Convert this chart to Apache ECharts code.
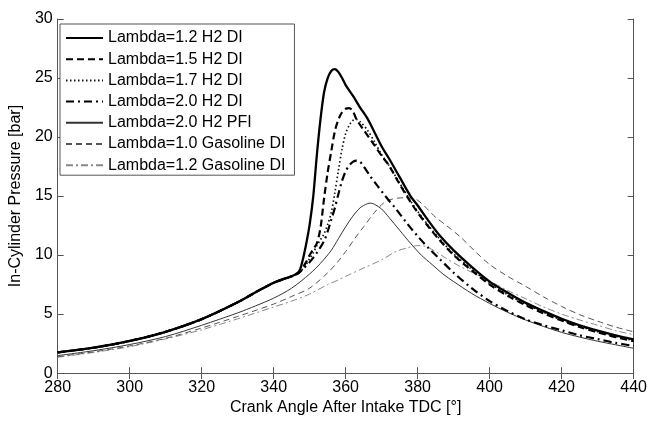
<!DOCTYPE html>
<html>
<head>
<meta charset="utf-8">
<script src="https://cdn.jsdelivr.net/npm/echarts@6/dist/echarts.min.js"></script>
<style>html,body{margin:0;padding:0;background:#fff;}#c{width:650px;height:421px;}</style>
</head>
<body>
<div id="c"></div>
<script>
const seriesNames = ["Lambda=1.2 H2 DI","Lambda=1.5 H2 DI","Lambda=1.7 H2 DI","Lambda=2.0 H2 DI","Lambda=2.0 H2 PFI","Lambda=1.0 Gasoline DI","Lambda=1.2 Gasoline DI"];

const xTicks = [280,300,320,340,360,380,400,420,440];
const yTicks = [0,5,10,15,20,25,30];

// shared compression phase of the H2 DI cases
const compAngle = [280,290,300,310,320,330,335,340,343,345];
const compP     = [1.75,2.15,2.72,3.5,4.57,6.0,6.85,7.65,8.0,8.2];

const angle_l12 = [347,348,349,350,351,352,353,354,355,356,357,358,359,360,362,364,366,368,370,372,375,378,380,383,386,390,395,400,405,410,415,420,425,430,435,440];
const p_l12     = [8.6,9.5,10.9,12.6,15.0,18.5,21.5,23.8,25.0,25.6,25.75,25.5,25.0,24.4,23.5,22.5,21.6,20.4,19.2,18.2,16.6,15.0,14.2,12.9,11.7,10.4,9.0,7.75,6.8,5.95,5.25,4.6,4.05,3.6,3.2,2.85];

const angle_l15 = [347,348,349,350,351,352,353,354,355,356,357,358,359,360,361,362,363,365,368,370,372,375,378,380,383,386,390,395,400,405,410,415,420,425,430,435,440];
const p_l15     = [8.5,8.9,9.4,10.0,10.5,11.0,12.3,14.8,17.0,18.8,20.5,21.5,22.1,22.4,22.45,22.2,21.5,20.6,19.3,18.4,17.6,16.0,14.5,13.6,12.4,11.3,10.0,8.7,7.5,6.55,5.75,5.05,4.45,3.9,3.45,3.05,2.7];

const angle_l17 = [347,348,349,350,351,352,353,354,355,356,357,358,359,360,361,362,363,364,366,368,370,372,375,378,380,383,386,390,395,400,405,410,415,420,425,430,435,440];
const p_l17     = [8.5,8.8,9.2,9.7,10.2,10.8,11.3,11.8,12.6,13.6,15.3,17.2,19.0,20.3,21.0,21.4,21.5,21.3,20.6,19.6,18.5,17.6,16.1,14.6,13.7,12.5,11.4,10.1,8.8,7.6,6.65,5.85,5.15,4.5,3.95,3.5,3.1,2.75];

const angle_l20 = [347,348,350,352,354,355,356,357,358,359,360,361,362,363,364,365,367,369,371,374,377,380,383,386,390,395,400,405,410,415,420,425,430,435,440];
const p_l20     = [8.5,8.8,9.4,10.2,11.2,12.0,13.0,14.0,15.2,16.3,17.1,17.6,17.9,18.0,17.9,17.5,16.6,15.8,15.0,13.9,12.7,11.6,10.6,9.7,8.5,7.2,6.1,5.25,4.55,4.05,3.62,3.2,2.88,2.56,2.3];

const angle_pfi = [280,290,300,310,320,330,335,340,345,350,353,356,358,360,362,364,366,367,368,370,372,375,378,381,384,387,390,395,400,405,410,415,420,425,430,435,440];
const p_pfi     = [1.48,1.9,2.42,3.1,4.05,5.1,5.7,6.35,7.2,8.4,9.3,10.4,11.4,12.4,13.3,14.0,14.35,14.4,14.3,13.9,13.2,12.1,11.0,10.0,9.2,8.4,7.75,6.75,5.9,5.15,4.5,3.95,3.45,3.05,2.7,2.4,2.1];

const angle_g10 = [280,290,300,310,320,330,340,345,350,355,358,360,363,365,368,370.5,373,376,379,381,383,385,388,392,396,400,405,410,415,420,425,430,435,440];
const p_g10     = [1.38,1.8,2.3,2.95,3.82,4.8,5.85,6.5,7.2,8.5,9.5,10.3,11.6,12.4,13.6,14.4,14.75,14.85,14.8,14.4,13.8,13.2,12.5,11.5,10.3,9.2,8.2,7.35,6.45,5.65,4.95,4.4,3.9,3.5];

const angle_g12 = [280,290,300,310,320,330,340,345,350,355,358,360,365,370,374,377,380,382,385,388,392,396,400,405,410,415,420,425,430,435,440];
const p_g12     = [1.35,1.75,2.24,2.9,3.67,4.6,5.6,6.1,6.7,7.5,7.9,8.2,8.9,9.6,10.3,10.6,10.8,10.75,10.3,9.7,9.0,8.4,7.8,7.0,6.3,5.6,5.0,4.5,4.05,3.6,3.25];

function pairs(xs, ys) { return xs.map((x, i) => [x, ys[i]]); }
const withComp = (xs, ys) => pairs(compAngle.concat(xs), compP.concat(ys));

const dataSets = [
  withComp(angle_l12, p_l12),
  withComp(angle_l15, p_l15),
  withComp(angle_l17, p_l17),
  withComp(angle_l20, p_l20),
  pairs(angle_pfi, p_pfi),
  pairs(angle_g10, p_g10),
  pairs(angle_g12, p_g12)
];

const styles = [
  {color:'#000', width:2.3, type:'solid'},
  {color:'#000', width:2.2, type:[7,4]},
  {color:'#111', width:1.7, type:[1.5,2.5]},
  {color:'#000', width:2.2, type:[8,4,2,4]},
  {color:'#333', width:1, type:'solid'},
  {color:'#555', width:1, type:[6,4]},
  {color:'#888', width:1, type:[7,3,2,3]}
];

const FONT = '"Liberation Sans", Arial, sans-serif';
const frameColor = '#555';

const chart = echarts.init(document.getElementById('c'), null, {renderer:'canvas'});

const series = dataSets.map((d, i) => ({
  name: seriesNames[i],
  type: 'line',
  data: d,
  xAxisIndex: 0,
  yAxisIndex: 0,
  symbol: 'none',
  smooth: 0.3,
  animation: false,
  z: 10 - i,
  lineStyle: {color: styles[i].color, width: styles[i].width, type: styles[i].type, join: 'round'},
  itemStyle: {color: styles[i].color}
}));

const axisCommon = {
  axisLine: {show:true, lineStyle:{color:frameColor, width:1}},
  axisTick: {show:true, inside:true, length:6, lineStyle:{color:frameColor}},
  splitLine: {show:false}
};

chart.setOption({
  backgroundColor: '#fff',
  animation: false,
  grid: {left:53, right:13, top:19, bottom:40, containLabel:false},
  legend: {
    show: true,
    orient: 'vertical',
    left: 60,
    top: 24,
    padding: [6, 9, 2, 5],
    itemWidth: 37,
    itemHeight: 14,
    itemGap: 5.2,
    borderColor: frameColor,
    borderWidth: 1,
    backgroundColor: '#fff',
    itemStyle: {opacity: 0, borderWidth: 0},
    textStyle: {fontFamily: FONT, fontSize: 16, color:'#000', lineHeight: 16},
    data: seriesNames
  },
  xAxis: [
    Object.assign({
      type:'value', min:280, max:440, interval:20, position:'bottom',
      name:'Crank Angle After Intake TDC [°]', nameLocation:'middle', nameGap:23,
      nameTextStyle:{fontFamily:FONT, fontSize:16, color:'#000'},
      axisLabel:{show:true, margin:6, fontFamily:FONT, fontSize:16, color:'#000',
        formatter: v => xTicks.includes(v) ? String(v) : ''}
    }, axisCommon),
    Object.assign({
      type:'value', min:280, max:440, interval:20, position:'top',
      axisLabel:{show:false}
    }, axisCommon)
  ],
  yAxis: [
    Object.assign({
      type:'value', min:0, max:30, interval:5, position:'left',
      name:'In-Cylinder Pressure [bar]', nameLocation:'middle', nameGap:26,
      nameTextStyle:{fontFamily:FONT, fontSize:16, color:'#000'},
      axisLabel:{show:true, margin:5, fontFamily:FONT, fontSize:16, color:'#000',
        formatter: v => yTicks.includes(v) ? String(v) : ''}
    }, axisCommon),
    Object.assign({
      type:'value', min:0, max:30, interval:5, position:'right',
      axisLabel:{show:false}
    }, axisCommon)
  ],
  series: series
});
</script>
</body>
</html>
